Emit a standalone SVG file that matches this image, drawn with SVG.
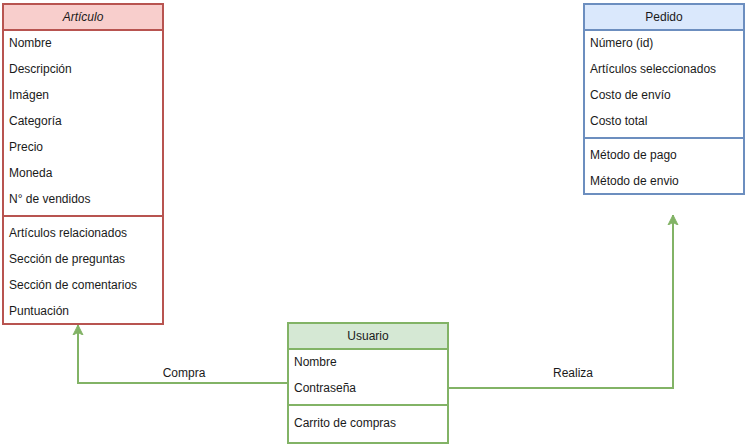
<svg xmlns="http://www.w3.org/2000/svg" width="746" height="448" viewBox="0 0 746 448">
<style>
text{font-family:"Liberation Sans",Arial,sans-serif;font-size:12px;fill:#1a1a1a}
.h{text-anchor:middle}
.box{fill:#ffffff;stroke-width:2}
.hd{stroke-width:2}
.edge{fill:none;stroke:#82b366;stroke-width:2}
</style>
<defs>
<marker id="arr" markerWidth="12" markerHeight="12" refX="10" refY="5" orient="auto" markerUnits="userSpaceOnUse" viewBox="0 0 12 10">
<path d="M0,0 L10,5 L0,10 L2.5,5 Z" fill="#82b366" stroke="#82b366" stroke-width="1"/>
</marker>
</defs>
<rect width="746" height="448" fill="#ffffff"/>
<g id="connectors">
<path class="edge" d="M288,383 H78 V325" marker-end="url(#arr)"/>
<path class="edge" d="M448,388 H673 V215" marker-end="url(#arr)"/>
<text class="h" x="184" y="377">Compra</text>
<text class="h" x="573" y="377">Realiza</text>
</g>
<g id="articulo">
<rect class="box" x="3" y="4" width="160" height="320" stroke="#b85450"/>
<rect class="hd" x="3" y="4" width="160" height="26" fill="#f8cecc" stroke="#b85450"/>
<text class="h" x="83" y="21" font-style="italic">Artículo</text>
<text x="9" y="47">Nombre</text>
<text x="9" y="73">Descripción</text>
<text x="9" y="99">Imágen</text>
<text x="9" y="125">Categoría</text>
<text x="9" y="151">Precio</text>
<text x="9" y="177">Moneda</text>
<text x="9" y="203">N° de vendidos</text>
<line x1="3" y1="216" x2="163" y2="216" stroke="#b85450" stroke-width="2"/>
<text x="9" y="237">Artículos relacionados</text>
<text x="9" y="263">Sección de preguntas</text>
<text x="9" y="289">Sección de comentarios</text>
<text x="9" y="315">Puntuación</text>
</g>
<g id="pedido">
<rect class="box" x="584" y="4" width="160" height="190" stroke="#6c8ebf"/>
<rect class="hd" x="584" y="4" width="160" height="26" fill="#dae8fc" stroke="#6c8ebf"/>
<text class="h" x="664" y="21">Pedido</text>
<text x="590" y="47">Número (id)</text>
<text x="590" y="73">Artículos seleccionados</text>
<text x="590" y="99">Costo de envío</text>
<text x="590" y="125">Costo total</text>
<line x1="584" y1="138" x2="744" y2="138" stroke="#6c8ebf" stroke-width="2"/>
<text x="590" y="159">Método de pago</text>
<text x="590" y="185">Método de envio</text>
</g>
<g id="usuario">
<rect class="box" x="288" y="323" width="160" height="120" stroke="#82b366"/>
<rect class="hd" x="288" y="323" width="160" height="26" fill="#d5e8d4" stroke="#82b366"/>
<text class="h" x="368" y="340">Usuario</text>
<text x="294" y="366">Nombre</text>
<text x="294" y="392">Contraseña</text>
<line x1="288" y1="405" x2="448" y2="405" stroke="#82b366" stroke-width="2"/>
<text x="294" y="427">Carrito de compras</text>
</g>
</svg>
